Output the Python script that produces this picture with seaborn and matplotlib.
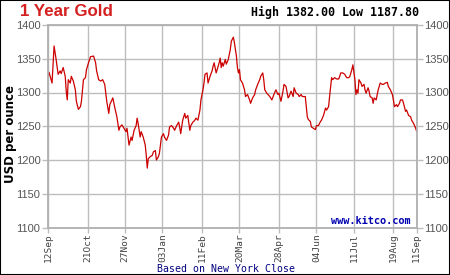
import matplotlib
matplotlib.use("Agg")
import matplotlib.pyplot as plt
import matplotlib.dates as mdates
from matplotlib.patches import Rectangle
import seaborn as sns
import pandas as pd

start_date = "2013-09-12"
day_offsets = [
    0, 1, 4, 6, 8, 10, 12, 13, 15, 17, 18, 19, 20, 22, 23, 25, 27, 28, 30, 32, 33, 35, 37, 38, 40, 42, 45,
    47, 48, 50, 52, 54, 56, 58, 60, 61, 64, 66, 68, 70, 71, 73, 75,
    77, 78, 80, 82, 83, 85, 87, 88, 89, 91, 92, 94, 96, 97, 98, 99, 101, 103, 104, 106, 107, 109, 110,
    112, 114, 115, 117, 119, 120, 122, 124, 125, 127, 129, 130, 131, 133, 135, 136, 138, 140, 141, 143,
    145, 146, 148,
    150, 151, 153, 154, 155, 157, 158, 160, 162, 163, 164, 166, 167, 169, 170, 171, 172, 173, 175, 176,
    178, 180, 181, 183, 184, 186, 187, 188, 189, 190, 192, 194, 195, 197, 199, 200, 202, 204, 205, 207,
    209, 210, 212, 213, 214, 216, 219, 221,
    223, 225, 227, 228, 230, 232, 233, 235, 237, 238, 240, 242, 243, 245, 247, 248, 250, 251, 254, 255,
    256, 257, 259, 260, 262, 264, 265, 267, 269, 270, 272, 274, 275, 277, 278, 280, 281, 283, 285, 287,
    288, 289, 291, 293, 294,
    295, 297, 298, 300, 301, 303, 304, 305, 306, 307, 309, 310, 312, 313, 314, 316, 317, 318, 320, 321,
    322, 324, 325, 326, 328, 330, 331, 333, 335, 336, 338, 340, 341, 342, 344, 345, 347, 348, 350, 351,
    353, 354, 356, 358, 359, 361, 363, 364,
]
prices = [
    1324, 1330, 1314, 1369, 1349, 1327, 1332, 1328, 1337, 1324, 1302, 1289, 1319, 1314, 1324, 1317, 1304,
    1287, 1275, 1279, 1287, 1319, 1322, 1334, 1344, 1353, 1354, 1344, 1332, 1319, 1317, 1319, 1312, 1287,
    1269, 1282, 1292, 1277, 1264, 1244, 1249, 1252, 1247,
    1242, 1247, 1222, 1234, 1229, 1244, 1251, 1262, 1254, 1234, 1242, 1234, 1222, 1207, 1188, 1202, 1205,
    1207, 1212, 1214, 1200, 1205, 1210, 1234, 1239, 1234, 1229, 1237, 1249, 1251, 1247, 1244, 1251, 1256,
    1249, 1239, 1259, 1269, 1262, 1266, 1244, 1251, 1256, 1259, 1262, 1259,
    1274, 1289, 1304, 1314, 1327, 1329, 1314, 1324, 1332, 1339, 1344, 1329, 1334, 1344, 1351, 1337, 1344,
    1339, 1349, 1342, 1349, 1364, 1376, 1382, 1374, 1354, 1337, 1329, 1334, 1319, 1314, 1304, 1294, 1297,
    1289, 1284, 1292, 1297, 1304, 1312, 1319, 1324, 1329, 1319, 1304, 1299, 1294, 1289,
    1297, 1304, 1297, 1299, 1287, 1302, 1312, 1309, 1292, 1294, 1302, 1294, 1307, 1299, 1297, 1294, 1297,
    1294, 1294, 1279, 1264, 1260, 1257, 1249, 1247, 1245, 1251, 1251, 1257, 1259, 1266, 1277, 1274, 1279,
    1294, 1322, 1319, 1322, 1320, 1320, 1324, 1329, 1329, 1327, 1324,
    1322, 1322, 1324, 1334, 1341, 1319, 1297, 1304, 1299, 1319, 1314, 1309, 1312, 1304, 1299, 1307, 1302,
    1294, 1292, 1284, 1292, 1289, 1297, 1304, 1314, 1312, 1312, 1314, 1315, 1309, 1304, 1297, 1289, 1279,
    1282, 1279, 1284, 1289, 1289, 1284, 1272, 1274, 1266, 1264, 1259, 1254, 1247, 1242,
]
tick_dates = ["2013-09-12", "2013-10-21", "2013-11-27", "2014-01-03", "2014-02-11", "2014-03-20",
              "2014-04-28", "2014-06-04", "2014-07-11", "2014-08-19", "2014-09-11"]
y_ticks = [1100, 1150, 1200, 1250, 1300, 1350, 1400]
title = "1 Year Gold"
hilo = "High 1382.00 Low 1187.80"

sns.set_style("white")
plt.rcParams["font.family"] = ["Liberation Sans", "DejaVu Sans"]

df = pd.DataFrame({
    "date": pd.to_datetime(start_date) + pd.to_timedelta(day_offsets, unit="D"),
    "price": prices,
})

fig = plt.figure(figsize=(4.5, 2.75), dpi=100)
fig.patch.set_facecolor("white")
ax = fig.add_axes([48 / 450, 1 - 227.5 / 275, (416.7 - 48) / 450, (227.5 - 25) / 275])

sns.lineplot(data=df, x="date", y="price", ax=ax, color="#cc0000", linewidth=0.9)

grid_c = "#bdbdbd"
ax.set_xlim(pd.to_datetime(tick_dates[0]), pd.to_datetime(tick_dates[-1]))
ax.set_ylim(1100, 1400)
ax.set_yticks(y_ticks)
ax.set_xticks(pd.to_datetime(tick_dates))
ax.xaxis.set_major_formatter(mdates.DateFormatter("%d%b"))
ax.grid(True, color=grid_c, linewidth=1.0)
for s in ax.spines.values():
    s.set_color("#b0b0b0")
    s.set_linewidth(1.3)
ax.tick_params(axis="y", which="both", left=True, right=True, labelleft=True, labelright=True,
               length=4.5, width=1.0, color=grid_c, pad=1, labelsize=8, labelcolor="#555555")
ax.tick_params(axis="x", bottom=True, length=3.5, width=1.0, color=grid_c, pad=1,
               labelsize=6.8, labelcolor="#444444", labelrotation=90)
for lab in ax.get_xticklabels():
    lab.set_fontfamily("DejaVu Sans Mono")
ax.set_xlabel("")
ax.set_ylabel("")

fig.text(10.5 / 450, 1 - 134 / 275, "USD per ounce", rotation=90, ha="center", va="center",
         fontsize=8.5, fontweight="bold", family="DejaVu Sans", color="black")
fig.text(20 / 450, 1 - 12 / 275, title, ha="left", va="center", fontsize=12.2,
         fontweight="bold", color="#d42020")
fig.text(419 / 450, 1 - 12 / 275, hilo, ha="right", va="center", fontsize=8.4,
         fontweight="bold", family="DejaVu Sans Mono", color="black")
fig.text(411 / 450, 1 - 220.5 / 275, "www.kitco.com", ha="right", va="center", fontsize=7.4,
         fontweight="bold", family="DejaVu Sans Mono", color="#0000b0")
fig.text(226 / 450, 1 - 269 / 275, "Based on New York Close", ha="center", va="center",
         fontsize=7.1, family="DejaVu Sans Mono", color="#000080")

fig.patches.append(Rectangle((0, 0), 1, 1, transform=fig.transFigure, fill=False,
                             edgecolor="black", linewidth=1.5))

fig.savefig("out.png", dpi=100)
